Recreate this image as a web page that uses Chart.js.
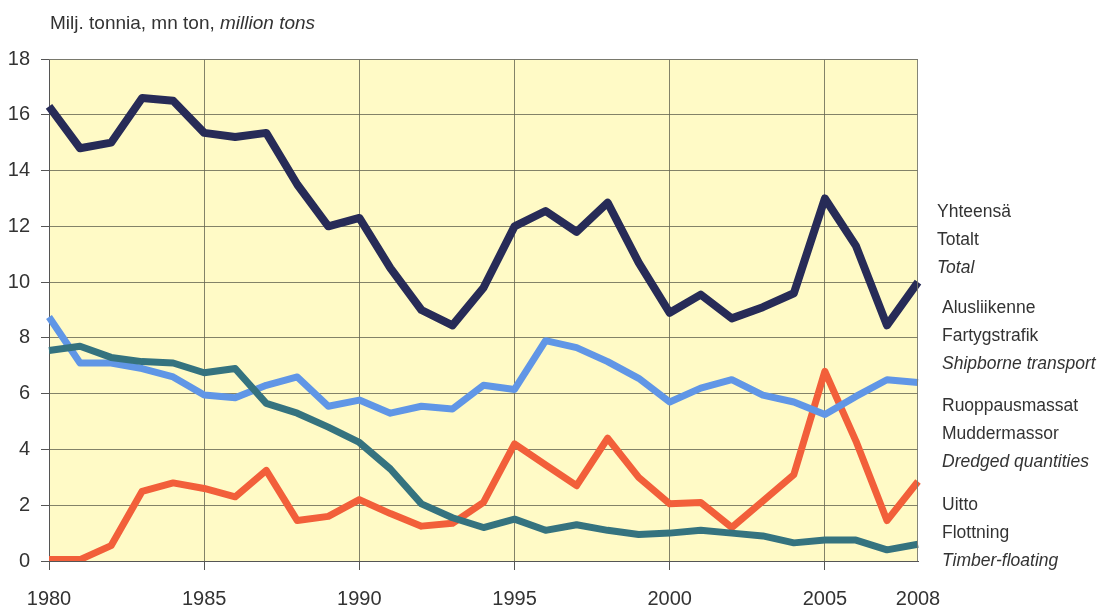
<!DOCTYPE html>
<html>
<head>
<meta charset="utf-8">
<script src="https://cdn.jsdelivr.net/npm/chart.js@4"></script>
<style>
  html, body { margin: 0; padding: 0; background: #fff; }
  canvas { display: block; }
</style>
</head>
<body>
<canvas id="myChart" width="1102" height="609"></canvas>
<script>
// years on the x axis
const years = [];
for (let y = 1980; y <= 2008; y++) years.push(String(y));
const shownYears = ['1980', '1985', '1990', '1995', '2000', '2005', '2008'];

// values, million tons
const total = [16.3, 14.8, 15.0, 16.6, 16.5, 15.35, 15.2, 15.35, 13.5, 12.0,
  12.3, 10.5, 9.0, 8.45, 9.8, 12.0, 12.55, 11.8, 12.85, 10.7,
  8.9, 9.55, 8.7, 9.1, 9.6, 13.0, 11.3, 8.45, 10.0];
const shipborne = [8.75, 7.1, 7.1, 6.9, 6.6, 5.95, 5.85, 6.3, 6.6, 5.55,
  5.77, 5.3, 5.55, 5.45, 6.3, 6.15, 7.9, 7.65, 7.15, 6.55,
  5.7, 6.2, 6.5, 5.95, 5.7, 5.25, 5.9, 6.5, 6.4];
const dredged = [0.05, 0.05, 0.55, 2.5, 2.8, 2.6, 2.3, 3.25, 1.45, 1.6,
  2.2, 1.7, 1.25, 1.35, 2.1, 4.2, 3.45, 2.7, 4.4, 3.0,
  2.05, 2.1, 1.2, 2.15, 3.1, 6.8, 4.3, 1.45, 2.85];
const timber = [7.55, 7.7, 7.3, 7.15, 7.1, 6.75, 6.9, 5.65, 5.3, 4.8,
  4.25, 3.3, 2.05, 1.55, 1.2, 1.5, 1.1, 1.3, 1.1, 0.95,
  1.0, 1.1, 1.0, 0.9, 0.65, 0.75, 0.75, 0.4, 0.6];

const gridCol = 'rgba(100,100,80,0.8)';
const textCol = '#333333';
const fontFam = '"Liberation Sans", Arial, sans-serif';

// legend text groups next to the chart
const legendGroups = [
  { lines: ['Yhteensä', 'Totalt', 'Total'], x: 937, y: [212, 240, 268] },
  { lines: ['Alusliikenne', 'Fartygstrafik', 'Shipborne transport'], x: 942, y: [308, 336, 364] },
  { lines: ['Ruoppausmassat', 'Muddermassor', 'Dredged quantities'], x: 942, y: [406, 434, 462] },
  { lines: ['Uitto', 'Flottning', 'Timber-floating'], x: 942, y: [505, 533, 561] }
];

const decor = {
  id: 'decor',
  beforeDraw(chart) {
    const a = chart.chartArea, c = chart.ctx;
    c.save();
    c.fillStyle = '#fffac6';
    c.fillRect(a.left, a.top, a.right - a.left, a.bottom - a.top);
    c.restore();
  },
  afterDraw(chart) {
    const a = chart.chartArea, c = chart.ctx;
    c.save();
    // top and right frame of the plot
    c.strokeStyle = 'rgba(120,120,110,0.9)';
    c.lineWidth = 1;
    c.beginPath();
    c.moveTo(a.left, a.top + 0.5);
    c.lineTo(a.right - 0.5, a.top + 0.5);
    c.lineTo(a.right - 0.5, a.bottom);
    c.stroke();

    // unit title
    c.fillStyle = textCol;
    c.textBaseline = 'middle';
    c.textAlign = 'left';
    c.font = '19px ' + fontFam;
    const t1 = 'Milj. tonnia, mn ton, ';
    c.fillText(t1, 50, 24);
    const w1 = c.measureText(t1).width;
    c.font = 'italic 19px ' + fontFam;
    c.fillText('million tons', 50 + w1, 24);

    // series names
    legendGroups.forEach(g => {
      g.lines.forEach((s, i) => {
        c.font = (i === 2 ? 'italic ' : '') + '17.5px ' + fontFam;
        c.fillText(s, g.x, g.y[i]);
      });
    });
    c.restore();
  }
};

const ctx = document.getElementById('myChart').getContext('2d');
const chart = new Chart(ctx, {
  type: 'line',
  data: {
    labels: years,
    datasets: [
      { label: 'Total', data: total, borderColor: '#272b57', borderWidth: 8, order: 0 },
      { label: 'Timber-floating', data: timber, borderColor: '#35737f', borderWidth: 7, order: 1 },
      { label: 'Shipborne transport', data: shipborne, borderColor: '#6096e6', borderWidth: 7, order: 2 },
      { label: 'Dredged quantities', data: dredged, borderColor: '#f25f3a', borderWidth: 7, order: 3 }
    ]
  },
  options: {
    responsive: false,
    animation: false,
    devicePixelRatio: 1,
    layout: { padding: { top: 59, right: 184, left: 0, bottom: 0 } },
    elements: {
      point: { radius: 0 },
      line: { tension: 0, borderJoinStyle: 'round', fill: false }
    },
    plugins: {
      legend: { display: false },
      tooltip: { enabled: false },
      title: { display: false }
    },
    scales: {
      x: {
        type: 'category',
        offset: false,
        afterFit(scale) { scale.height = 48; },
        border: { display: true, color: '#555', width: 1 },
        grid: {
          color: c => (c.index % 5 === 0 && c.index > 0) ? gridCol : 'transparent',
          tickColor: c => (c.index % 5 === 0) ? '#555' : 'transparent',
          tickLength: 9,
          drawOnChartArea: true
        },
        ticks: {
          autoSkip: false,
          maxRotation: 0,
          padding: 17,
          color: textCol,
          font: { size: 20, family: fontFam },
          callback(v, i) {
            const l = years[i];
            return shownYears.includes(l) ? l : '';
          }
        }
      },
      y: {
        min: 0,
        max: 18,
        afterFit(scale) { scale.width = 49; },
        border: { display: true, color: '#555', width: 1 },
        grid: { color: gridCol, tickColor: '#555', tickLength: 8 },
        ticks: {
          stepSize: 2,
          padding: 11,
          color: textCol,
          font: { size: 20, family: fontFam }
        }
      }
    }
  },
  plugins: [decor]
});
</script>
</body>
</html>
